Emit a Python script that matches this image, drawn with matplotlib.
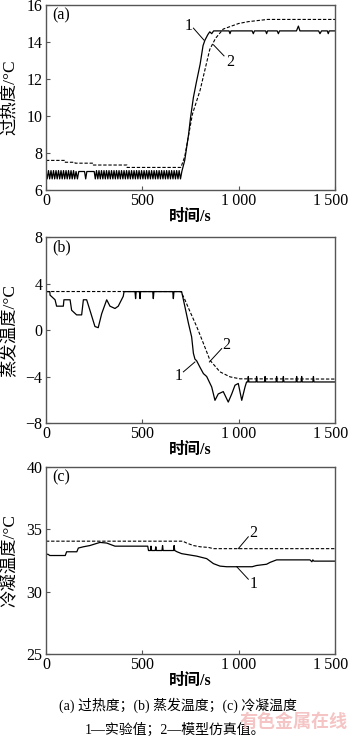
import matplotlib
matplotlib.use("Agg")
import matplotlib.pyplot as plt
from matplotlib.transforms import ScaledTranslation

plt.rcParams['font.family'] = ['Liberation Serif', 'Noto Sans CJK SC', 'DejaVu Sans']
plt.rcParams['axes.unicode_minus'] = False

# (a) 过热度
t_a1 = [0, 6, 13, 19, 26, 32, 39, 45, 52, 58, 65, 71, 78, 84, 91, 97, 104, 110, 117, 123, 130, 136, 143, 149,
        156, 163, 170, 200, 206, 212, 250,
        256, 262, 269, 275, 282, 288, 295, 301, 308, 314, 321, 327, 334, 340, 347, 353, 360, 366, 373, 379,
        386, 392, 399, 405, 412, 418, 425, 431, 438, 444, 451, 457, 464, 470, 477, 483, 490, 496, 503, 509,
        516, 522, 529, 535, 542, 548, 555, 561, 568, 574, 581, 587, 594, 600, 607, 613, 620, 626, 633, 639,
        646, 652, 659, 665, 672, 678, 685, 691, 698,
        705, 720, 740, 750, 765, 780, 800, 815, 825, 840, 850, 860, 870, 900, 950, 955, 960, 1000, 1070,
        1076, 1082, 1140, 1145, 1150, 1200, 1206, 1212, 1300, 1310, 1318, 1326, 1415, 1422, 1430, 1460,
        1465, 1470, 1500]
v_a1 = [7.05, 6.6, 7.05, 6.6, 7.05, 6.6, 7.05, 6.6, 7.05, 6.6, 7.05, 6.6, 7.05, 6.6, 7.05, 6.6, 7.05, 6.6,
        7.05, 6.6, 7.05, 6.6, 7.05, 6.6,
        7.0, 6.6, 7.0, 7.0, 6.6, 7.0, 7.0,
        6.6, 7.05, 6.6, 7.05, 6.6, 7.05, 6.6, 7.05, 6.6, 7.05, 6.6, 7.05, 6.6, 7.05, 6.6, 7.05, 6.6, 7.05,
        6.6, 7.05, 6.6, 7.05, 6.6, 7.05, 6.6, 7.05, 6.6, 7.05, 6.6, 7.05, 6.6, 7.05, 6.6, 7.05, 6.6, 7.05,
        6.6, 7.05, 6.6, 7.05, 6.6, 7.05, 6.6, 7.05, 6.6, 7.05, 6.6, 7.05, 6.6, 7.05, 6.6, 7.05, 6.6, 7.05,
        6.6, 7.05, 6.6, 7.05, 6.6, 7.05, 6.6, 7.05, 6.6, 7.05, 6.6, 7.05, 6.6, 7.05, 6.6,
        7.0, 7.6, 9.0, 9.9, 11.0, 11.8, 12.8, 13.8, 14.1, 14.4, 14.55, 14.45, 14.6, 14.6, 14.6, 14.45,
        14.6, 14.6, 14.6, 14.45, 14.6, 14.6, 14.45, 14.6, 14.6, 14.45, 14.6, 14.6, 14.86, 14.6, 14.6,
        14.6, 14.45, 14.6, 14.6, 14.45, 14.6, 14.6]
t_a2 = [0, 99, 100, 150, 151, 245, 246, 420, 421, 700, 720, 760, 800, 850, 880, 920, 1000, 1050, 1150, 1500]
v_a2 = [7.6, 7.6, 7.5, 7.5, 7.45, 7.45, 7.35, 7.35, 7.22, 7.22, 7.8, 10.1, 11.4, 13.6, 14.2, 14.7, 15.0,
        15.1, 15.22, 15.22]

# (b) 蒸发温度
t_b1 = [0, 20, 21, 47, 55, 90, 93, 125, 133, 159, 185, 194, 211, 228, 254, 271, 289, 315, 332, 358, 375,
        401, 405, 462, 465, 468, 485, 488, 491, 554, 557, 560, 658, 661, 664, 704, 721, 739, 756, 765,
        773, 782, 799, 817, 834, 860, 877, 894, 920, 946, 964, 981, 998, 1016, 1033, 1041, 1047, 1050,
        1053, 1090, 1093, 1096, 1134, 1137, 1140, 1194, 1197, 1200, 1229, 1232, 1235, 1298, 1301, 1304,
        1324, 1327, 1330, 1385, 1388, 1391, 1500]
v_b1 = [3.3, 3.3, 3.0, 2.6, 2.05, 2.05, 2.6, 2.6, 1.7, 1.3, 1.3, 2.6, 2.6, 1.7, 0.3, 0.2, 1.4, 2.6, 2.05,
        1.85, 2.05, 2.9, 3.3, 3.3, 2.7, 3.3, 3.3, 2.7, 3.3, 3.3, 2.7, 3.3, 3.3, 2.7, 3.3, 3.3, 2.0, 0.6,
        -0.6, -2.0, -2.5, -2.65, -3.2, -3.75, -4.0, -4.9, -6.05, -5.5, -5.3, -6.2, -5.5, -4.75, -4.6,
        -6.05, -4.9, -4.47, -4.47, -4.0, -4.47, -4.47, -4.0, -4.47, -4.47, -4.0, -4.47, -4.47, -4.0,
        -4.47, -4.47, -4.0, -4.47, -4.47, -4.0, -4.47, -4.47, -4.0, -4.47, -4.47, -4.0, -4.47, -4.47]
t_b2 = [0, 700, 721, 747, 782, 817, 851, 903, 955, 1007, 1500]
v_b2 = [3.31, 3.31, 2.6, 1.6, 0.3, -1.15, -2.6, -3.6, -4.03, -4.2, -4.22]

# (c) 冷凝温度
t_c1 = [0, 10, 20, 100, 107, 160, 168, 194, 228, 263, 280, 315, 332, 358, 528, 532, 542, 545, 548, 567,
        570, 573, 602, 605, 608, 662, 665, 668, 680, 704, 782, 834, 869, 903, 938, 1070, 1093, 1145,
        1163, 1197, 1370, 1380, 1385, 1390, 1500]
v_c1 = [33.0, 33.0, 32.9, 32.9, 33.2, 33.2, 33.5, 33.6, 33.7, 33.87, 33.95, 33.9, 33.8, 33.65, 33.65,
        33.3, 33.3, 33.65, 33.3, 33.3, 33.6, 33.3, 33.3, 33.7, 33.3, 33.3, 33.7, 33.3, 33.2, 33.05,
        32.85, 32.65, 32.25, 32.05, 32.0, 32.0, 32.1, 32.2, 32.35, 32.55, 32.55, 32.4, 32.55, 32.45,
        32.45]
t_c2 = [0, 710, 730, 765, 800, 843, 869, 1500]
v_c2 = [34.05, 34.05, 33.9, 33.7, 33.6, 33.55, 33.45, 33.45]

xticks = [0, 500, 1000, 1500]
xticklabels = ['0', '500', '1\u2009000', '1\u2009500']

W, H = 350, 740
fig = plt.figure(figsize=(3.5, 7.4), dpi=100)

left = 46 / W
width = (335 - 46) / W


def make_ax(top_px, bot_px):
    ax = fig.add_axes([left, 1 - bot_px / H, width, (bot_px - top_px) / H])
    for s in ax.spines.values():
        s.set_color('#555555')
        s.set_linewidth(1.0)
    ax.tick_params(direction='in', length=3, width=0.8, color='#555555', labelsize=11.5, pad=2.5)
    ax.set_xlim(0, 1500)
    ax.set_xticks(xticks)
    ax.set_xticklabels(xticklabels)
    # last label squeezed against the right edge, as in the printed figure
    last = ax.get_xticklabels()[-1]
    last.set_transform(last.get_transform() + ScaledTranslation(-3.5 / 72, 0, fig.dpi_scale_trans))
    ax.set_xlabel('时间/s', fontsize=11.5, fontweight='bold')
    ax.xaxis.set_label_coords(0.5, -0.1)
    ax.yaxis.set_label_coords(-0.098, 0.5)
    return ax


solid = dict(color='black', lw=0.9)
dashed = dict(color='black', lw=0.8, ls=(0, (3, 1.6)))
leader = dict(color='black', lw=0.7)
ylab = dict(fontsize=12.5)

# (a)
ax = make_ax(5, 190)
ax.plot(t_a1, v_a1, **solid)
ax.plot(t_a2, v_a2, **dashed)
ax.set_ylim(6, 16)
ax.set_yticks([6, 8, 10, 12, 14, 16])
ax.set_ylabel('过热度/°C', **ylab)
ax.text(0.02, 0.945, '(a)', transform=ax.transAxes, fontsize=11.5, va='center')
ax.plot([765, 820], [14.75, 14.1], **leader)
ax.text(739, 14.85, '1', fontsize=11.5, ha='center', va='center')
ax.plot([924, 869], [13.25, 13.85], **leader)
ax.text(955, 12.9, '2', fontsize=11.5, ha='center', va='center')

# (b)
ax = make_ax(237, 423)
ax.plot(t_b1, v_b1, **solid)
ax.plot(t_b2, v_b2, **dashed)
ax.set_ylim(-8, 8)
ax.set_yticks([-8, -4, 0, 4, 8])
ax.set_yticklabels(['−8', '−4', '0', '4', '8'])
ax.set_ylabel('蒸发温度/°C', **ylab)
ax.text(0.02, 0.945, '(b)', transform=ax.transAxes, fontsize=11.5, va='center')
ax.plot([912, 848], [-1.6, -2.75], **leader)
ax.text(938, -1.3, '2', fontsize=11.5, ha='center', va='center')
ax.plot([713, 773], [-3.6, -2.75], **leader)
ax.text(690, -3.95, '1', fontsize=11.5, ha='center', va='center')

# (c)
ax = make_ax(467, 654)
ax.plot(t_c1, v_c1, **solid)
ax.plot(t_c2, v_c2, **dashed)
ax.set_ylim(25, 40)
ax.set_yticks([25, 30, 35, 40])
ax.set_ylabel('冷凝温度/°C', **ylab)
ax.text(0.02, 0.945, '(c)', transform=ax.transAxes, fontsize=11.5, va='center')
ax.plot([1050, 998], [34.4, 33.45], **leader)
ax.text(1078, 34.7, '2', fontsize=11.5, ha='center', va='center')
ax.plot([1050, 990], [31.0, 32.0], **leader)
ax.text(1078, 30.65, '1', fontsize=11.5, ha='center', va='center')

fig.text(178 / W, 1 - 705 / H, '(a) 过热度；(b) 蒸发温度；(c) 冷凝温度', fontsize=10,
         ha='center', va='center')
fig.text(175 / W, 1 - 730 / H, '1—实验值；2—模型仿真值。', fontsize=10, ha='center', va='center')
fig.text(294 / W, 1 - 721 / H, '有色金属在线', fontsize=13, fontweight='bold', color='#f5c4c4',
         ha='center', va='center', family='Noto Sans CJK SC')

fig.savefig('out.png', dpi=100)
